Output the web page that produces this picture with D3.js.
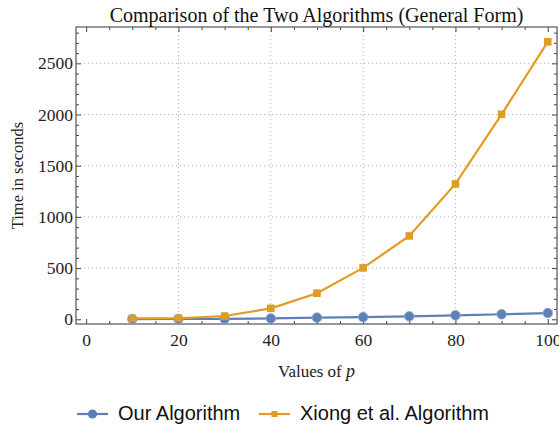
<!DOCTYPE html>
<html>
<head>
<meta charset="utf-8">
<style>
  body { margin: 0; background: #fff; }
  svg { display: block; }
</style>
</head>
<body>
<svg id="chart" width="559" height="427"></svg>
<script src="https://d3js.org/d3.v7.min.js"></script>
<script>

// values of p and timings
var pValues = [10, 20, 30, 40, 50, 60, 70, 80, 90, 100];
var ourTimes = [2, 3, 5, 8, 16, 21, 29, 39, 49, 61];
var xiongTimes = [8, 10, 32, 107, 255, 502, 814, 1322, 2002, 2710];

var xTicks = [0, 20, 40, 60, 80, 100];
var yTicks = [0, 500, 1000, 1500, 2000, 2500];

var seriesNames = ["Our Algorithm", "Xiong et al. Algorithm"];
var seriesColors = ["#5e81b5", "#e19c24"];

var svg = d3.select("#chart"),
    frame = {left: 76, right: 557, top: 27, bottom: 324};

var x = d3.scaleLinear().domain([-2.2, 102]).range([frame.left, frame.right]);
var y = d3.scaleLinear().domain([-46, 2855]).range([frame.bottom, frame.top]);

var serif = "'Liberation Serif', 'Times New Roman', serif";
var sans = "'Liberation Sans', Arial, sans-serif";

// dotted grid
var grid = svg.append("g").attr("stroke", "#b4b4b4").attr("stroke-width", 1)
    .attr("stroke-dasharray", "1.2,2.8");
grid.selectAll(".gx").data([20, 40, 60, 80]).enter().append("line")
    .attr("x1", function(d) { return x(d); }).attr("x2", function(d) { return x(d); })
    .attr("y1", frame.top).attr("y2", frame.bottom);
grid.selectAll(".gy").data([500, 1000, 1500, 2000, 2500]).enter().append("line")
    .attr("y1", function(d) { return y(d); }).attr("y2", function(d) { return y(d); })
    .attr("x1", frame.left).attr("x2", frame.right);

// frame axes, ticks point inward like a Mathematica frame
var xMinor = d3.range(0, 101, 5).filter(function(d) { return d % 20 != 0; });
var yMinor = d3.range(0, 2801, 100).filter(function(d) { return d % 500 != 0; });

function styleAxis(g) {
  g.selectAll(".domain").remove();
  g.selectAll(".tick line").attr("stroke", "#444");
  g.selectAll("text").attr("font-family", serif).attr("font-size", 17.5).attr("fill", "#222");
}

svg.append("g").attr("transform", "translate(0," + frame.bottom + ")")
    .call(d3.axisBottom(x).tickValues(xTicks).tickSize(-5).tickPadding(10).tickFormat(d3.format("d")))
    .call(styleAxis);
svg.append("g").attr("transform", "translate(0," + frame.bottom + ")")
    .call(d3.axisBottom(x).tickValues(xMinor).tickSize(-3).tickFormat(""))
    .call(styleAxis);
svg.append("g").attr("transform", "translate(0," + frame.top + ")")
    .call(d3.axisTop(x).tickValues(xTicks).tickSize(-5).tickFormat(""))
    .call(styleAxis);
svg.append("g").attr("transform", "translate(0," + frame.top + ")")
    .call(d3.axisTop(x).tickValues(xMinor).tickSize(-3).tickFormat(""))
    .call(styleAxis);

svg.append("g").attr("transform", "translate(" + frame.left + ",0)")
    .call(d3.axisLeft(y).tickValues(yTicks).tickSize(-5).tickPadding(3).tickFormat(d3.format("d")))
    .call(styleAxis);
svg.append("g").attr("transform", "translate(" + frame.left + ",0)")
    .call(d3.axisLeft(y).tickValues(yMinor).tickSize(-3).tickFormat(""))
    .call(styleAxis);
svg.append("g").attr("transform", "translate(" + frame.right + ",0)")
    .call(d3.axisRight(y).tickValues(yTicks).tickSize(-5).tickFormat(""))
    .call(styleAxis);
svg.append("g").attr("transform", "translate(" + frame.right + ",0)")
    .call(d3.axisRight(y).tickValues(yMinor).tickSize(-3).tickFormat(""))
    .call(styleAxis);

svg.append("rect")
    .attr("x", frame.left).attr("y", frame.top)
    .attr("width", frame.right - frame.left).attr("height", frame.bottom - frame.top)
    .attr("fill", "none").attr("stroke", "#555").attr("stroke-width", 1.2);

// lines
var line = d3.line()
    .x(function(d) { return x(d[0]); })
    .y(function(d) { return y(d[1]); });

var ourData = d3.zip(pValues, ourTimes),
    xiongData = d3.zip(pValues, xiongTimes);

var plot = svg.append("g");

plot.append("path").datum(ourData)
    .attr("fill", "none").attr("stroke", seriesColors[0]).attr("stroke-width", 2.2)
    .attr("d", line);
plot.selectAll(".dotOur").data(ourData).enter().append("circle")
    .attr("cx", function(d) { return x(d[0]); })
    .attr("cy", function(d) { return y(d[1]); })
    .attr("r", 4.8)
    .attr("fill", seriesColors[0]).attr("stroke", "#8ea6cc").attr("stroke-width", 0.8);

plot.append("path").datum(xiongData)
    .attr("fill", "none").attr("stroke", seriesColors[1]).attr("stroke-width", 2.2)
    .attr("d", line);
plot.selectAll(".sqXiong").data(xiongData).enter().append("rect")
    .attr("x", function(d) { return x(d[0]) - 3.8; })
    .attr("y", function(d) { return y(d[1]) - 3.8; })
    .attr("width", 7.6).attr("height", 7.6)
    .attr("fill", seriesColors[1]);

// titles
svg.append("text")
    .attr("x", (frame.left + frame.right) / 2).attr("y", 22)
    .attr("text-anchor", "middle")
    .attr("font-family", serif).attr("font-size", 20).attr("fill", "#111")
    .text("Comparison of the Two Algorithms (General Form)");

var xl = svg.append("text")
    .attr("x", (frame.left + frame.right) / 2).attr("y", 377)
    .attr("text-anchor", "middle")
    .attr("font-family", serif).attr("font-size", 17).attr("fill", "#222");
xl.append("tspan").text("Values of ");
xl.append("tspan").attr("font-style", "italic").attr("font-size", 18).text("p");

svg.append("text")
    .attr("transform", "translate(23," + ((frame.top + frame.bottom) / 2) + ") rotate(-90)")
    .attr("text-anchor", "middle")
    .attr("font-family", serif).attr("font-size", 16.5).attr("fill", "#222")
    .text("Time in seconds");

// legend
var legend = svg.append("g").attr("transform", "translate(0,414)");
var legendX = [77, 259];

seriesNames.forEach(function(name, i) {
  var lg = legend.append("g").attr("transform", "translate(" + legendX[i] + ",0)");
  lg.append("line").attr("x1", 0).attr("x2", 31).attr("y1", 0).attr("y2", 0)
      .attr("stroke", seriesColors[i]).attr("stroke-width", 2.2);
  if (i == 0) {
    lg.append("circle").attr("cx", 15.5).attr("cy", 0).attr("r", 4.6).attr("fill", seriesColors[i]);
  } else {
    lg.append("rect").attr("x", 12.5).attr("y", -3).attr("width", 6).attr("height", 6).attr("fill", seriesColors[i]);
  }
  lg.append("text").attr("x", 41).attr("y", 5.5)
      .attr("font-family", sans).attr("font-size", 20).attr("fill", "#111")
      .text(name);
});

</script>
</body>
</html>
